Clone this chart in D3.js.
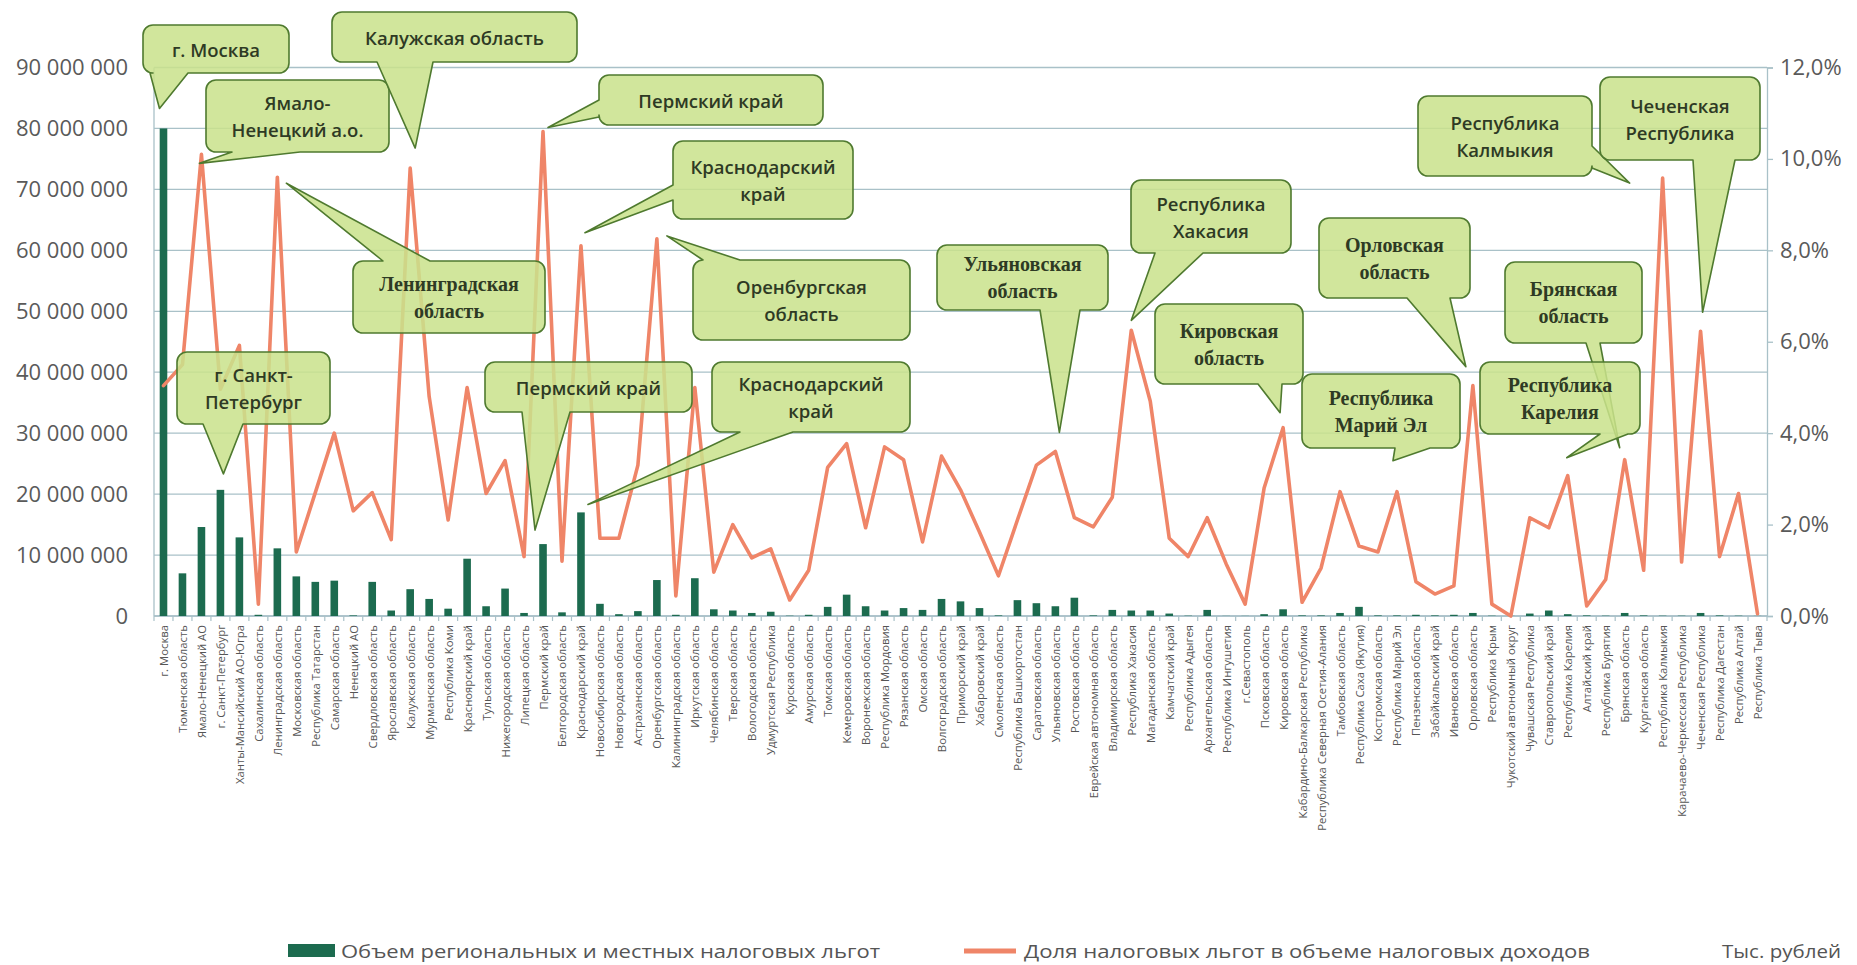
<!DOCTYPE html>
<html><head><meta charset="utf-8">
<script src="https://cdn.jsdelivr.net/npm/d3@7"></script>
<style>html,body{margin:0;padding:0;background:#fff;}svg{display:block;}</style>
</head><body>
<svg id="c" width="1857" height="965"></svg>
<script>
// ---------- DATA ----------
const categories = ["г. Москва","Тюменская область","Ямало-Ненецкий АО","г. Санкт-Петербург","Ханты-Мансийский АО-Югра","Сахалинская область","Ленинградская область","Московская область","Республика Татарстан","Самарская область","Ненецкий АО","Свердловская область","Ярославская область","Калужская область","Мурманская область","Республика Коми","Красноярский край","Тульская область","Нижегородская область","Липецкая область","Пермский край","Белгородская область","Краснодарский край","Новосибирская область","Новгородская область","Астраханская область","Оренбургская область","Калининградская область","Иркутская область","Челябинская область","Тверская область","Вологодская область","Удмуртская Республика","Курская область","Амурская область","Томская область","Кемеровская область","Воронежская область","Республика Мордовия","Рязанская область","Омская область","Волгоградская область","Приморский край","Хабаровский край","Смоленская область","Республика Башкортостан","Саратовская область","Ульяновская область","Ростовская область","Еврейская автономная область","Владимирская область","Республика Хакасия","Магаданская область","Камчатский край","Республика Адыгея","Архангельская область","Республика Ингушетия","г.Севастополь","Псковская область","Кировская область","Кабардино-Балкарская Республика","Республика Северная Осетия-Алания","Тамбовская область","Республика Саха (Якутия)","Костромская область","Республика Марий Эл","Пензенская область","Забайкальский край","Ивановская область","Орловская область","Республика Крым","Чукотский автономный округ","Чувашская Республика","Ставропольский край","Республика Карелия","Алтайский край","Республика Бурятия","Брянская область","Курганская область","Республика Калмыкия","Карачаево-Черкесская Республика","Чеченская Республика","Республика Дагестан","Республика Алтай","Республика Тыва"];

// Объем региональных и местных налоговых льгот, тыс. рублей
const benefitVolume = [80000000,7000000,14600000,20700000,12900000,200000,11100000,6500000,5600000,5800000,100000,5600000,900000,4400000,2800000,1200000,9400000,1600000,4500000,500000,11800000,600000,17000000,2000000,300000,800000,5900000,200000,6200000,1100000,900000,500000,700000,50000,200000,1500000,3500000,1600000,900000,1300000,1000000,2800000,2400000,1300000,100000,2600000,2100000,1600000,3000000,100000,1000000,900000,900000,400000,50000,1000000,20000,20000,300000,1100000,100000,100000,500000,1500000,100000,100000,200000,100000,200000,500000,50000,20000,400000,900000,300000,100000,50000,500000,100000,50000,50000,500000,100000,50000,20000];

// Доля налоговых льгот в объеме налоговых доходов, %
const benefitShare = [5.04,5.5,10.1,4.96,5.92,0.26,9.6,1.4,2.7,4.0,2.3,2.7,1.67,9.8,4.8,2.1,5.0,2.68,3.4,1.3,10.6,1.2,8.1,1.7,1.7,3.3,8.25,0.44,5.0,0.96,2.0,1.27,1.47,0.35,1.0,3.25,3.77,1.93,3.7,3.42,1.62,3.5,2.76,1.84,0.88,2.1,3.3,3.6,2.15,1.95,2.6,6.25,4.7,1.7,1.3,2.15,1.14,0.26,2.8,4.12,0.3,1.05,2.72,1.53,1.4,2.72,0.75,0.48,0.66,5.04,0.26,0.0,2.15,1.93,3.07,0.22,0.8,3.42,1.0,9.58,1.18,6.23,1.3,2.68,0.05];

const leftTicks = [0,10000000,20000000,30000000,40000000,50000000,60000000,70000000,80000000,90000000];
const rightTicks = [0,2,4,6,8,10,12];

const legendBar = "Объем региональных и местных налоговых льгот";
const legendLine = "Доля налоговых льгот в объеме налоговых доходов";
const unitsLabel = "Тыс. рублей";

// Annotation callouts (layout of the balloon labels)
const callouts = [
  {lines:["г. Москва"], serif:false, box:[143,25,146,48], edge:"bottom", base:[150,188], i:0, s:"bar", off:[-4,-20]},
  {lines:["Ямало-","Ненецкий а.о."], serif:false, box:[206,80,183,72], edge:"bottom", base:[232,300], i:2, s:"line", off:[-2,9]},
  {lines:["Калужская область"], serif:false, box:[332,12,245,50], edge:"bottom", base:[377,433], i:13, s:"line", off:[5,-20]},
  {lines:["Ленинградская","область"], serif:true, box:[353,261,192,72], edge:"top", base:[383,430], i:6, s:"line", off:[9,6]},
  {lines:["г. Санкт-","Петербург"], serif:false, box:[177,352,153,72], edge:"bottom", base:[203,243], i:3, s:"bar", off:[3,-16]},
  {lines:["Пермский край"], serif:false, box:[599,75,224,50], edge:"left", base:[100,117], i:20, s:"line", off:[5,-4]},
  {lines:["Краснодарский","край"], serif:false, box:[673,141,180,78], edge:"left", base:[185,200], i:22, s:"line", off:[4,-13]},
  {lines:["Оренбургская","область"], serif:false, box:[693,260,217,80], edge:"top", base:[703,740], i:26, s:"line", off:[10,-3]},
  {lines:["Пермский край"], serif:false, box:[485,362,207,50], edge:"bottom", base:[522,570], i:20, s:"bar", off:[-8,-14]},
  {lines:["Краснодарский","край"], serif:false, box:[712,362,198,70], edge:"bottom", base:[740,793], i:22, s:"bar", off:[7,-8]},
  {lines:["Ульяновская","область"], serif:true, box:[937,245,171,65], edge:"bottom", base:[1040,1080], i:47, s:"line", off:[4,-19]},
  {lines:["Республика","Хакасия"], serif:false, box:[1131,180,160,73], edge:"bottom", base:[1155,1203], i:51, s:"line", off:[0,-10]},
  {lines:["Кировская","область"], serif:true, box:[1155,304,148,80], edge:"bottom", base:[1258,1282], i:59, s:"line", off:[-3,-15]},
  {lines:["Республика","Марий Эл"], serif:true, box:[1302,374,158,74], edge:"bottom", base:[1395,1430], i:65, s:"line", off:[-4,-31]},
  {lines:["Орловская","область"], serif:true, box:[1319,218,151,80], edge:"bottom", base:[1407,1450], i:69, s:"line", off:[-7,-19]},
  {lines:["Республика","Калмыкия"], serif:false, box:[1418,96,174,80], edge:"right", base:[146,168], i:79, s:"line", off:[-33,5]},
  {lines:["Чеченская","Республика"], serif:false, box:[1600,77,160,83], edge:"bottom", base:[1693,1735], i:81, s:"line", off:[2,-19]},
  {lines:["Брянская","область"], serif:true, box:[1505,262,137,81], edge:"bottom", base:[1586,1600], i:77, s:"line", off:[-5,-12]},
  {lines:["Республика","Карелия"], serif:true, box:[1480,362,160,72], edge:"bottom", base:[1600,1628], i:74, s:"line", off:[-1,-18]}
];

// ---------- CHART ----------
const svg = d3.select("#c");
const X0 = 154, X1 = 1767, YT = 67.5, YB = 616;
const barColor = "#1c6b4f", lineColor = "#ef8568", gridColor = "#a9c1c8", axisText = "#5a5a5a";
const sans = "'Open Sans', 'Noto Sans', sans-serif";
const serif = "'Liberation Serif', 'DejaVu Serif', serif";

const x = d3.scaleBand().domain(categories).range([X0, X1]).paddingInner(0.6).paddingOuter(0.3);
const xc = c => x(c) + x.bandwidth() / 2;
const yL = d3.scaleLinear().domain([0, 90000000]).range([YB, YT]);
const yR = d3.scaleLinear().domain([0, 12]).range([YB, YT]);

// gridlines
svg.append("g").selectAll("line").data(leftTicks).join("line")
  .attr("x1", X0).attr("x2", X1).attr("y1", d => yL(d)).attr("y2", d => yL(d))
  .attr("stroke", gridColor).attr("stroke-width", 1.3);

// left vertical axis line
svg.append("line").attr("x1", X0).attr("x2", X0).attr("y1", YT).attr("y2", YB)
  .attr("stroke", gridColor).attr("stroke-width", 1.3);

// left axis labels
const fmtL = d => d3.format(",")(d).replace(/,/g, " ");
const gl = svg.append("g").attr("transform", `translate(${X0},0)`)
  .call(d3.axisLeft(yL).tickValues(leftTicks).tickFormat(fmtL).tickSize(0).tickPadding(26));
gl.select(".domain").remove();
gl.selectAll("text").attr("font-family", sans).attr("font-size", 22).attr("fill", axisText);

// right axis
const gr = svg.append("g").attr("transform", `translate(${X1},0)`)
  .call(d3.axisRight(yR).tickValues(rightTicks).tickFormat(d => d3.format(".1f")(d).replace(".", ",") + "%").tickSize(6).tickPadding(7));
gr.select(".domain").attr("stroke", gridColor).attr("stroke-width", 1.3);
gr.selectAll(".tick line").attr("stroke", gridColor).attr("stroke-width", 1.3);
gr.selectAll("text").attr("font-family", sans).attr("font-size", 22).attr("fill", axisText);

// x axis baseline and ticks between categories
svg.append("line").attr("x1", X0).attr("x2", X1).attr("y1", YB).attr("y2", YB)
  .attr("stroke", gridColor).attr("stroke-width", 1.5);
const step = x.step();
const boundaries = categories.map(c => x(c) - step * 0.3).concat([x(categories[categories.length - 1]) + x.bandwidth() + step * 0.3]);
svg.append("g").selectAll("line").data(boundaries).join("line")
  .attr("x1", d => d).attr("x2", d => d).attr("y1", YB).attr("y2", YB + 5)
  .attr("stroke", gridColor).attr("stroke-width", 1.2);

// bars
svg.append("g").selectAll("rect").data(categories).join("rect")
  .attr("x", c => x(c)).attr("width", x.bandwidth())
  .attr("y", (c, i) => yL(benefitVolume[i]))
  .attr("height", (c, i) => YB - yL(benefitVolume[i]))
  .attr("fill", barColor);

// line
const line = d3.line().x((d, i) => xc(categories[i])).y(d => yR(d));
svg.append("path").datum(benefitShare).attr("d", line)
  .attr("fill", "none").attr("stroke", lineColor).attr("stroke-width", 3.6)
  .attr("stroke-linejoin", "round").attr("stroke-linecap", "round");

// x labels
svg.append("g").selectAll("text").data(categories).join("text")
  .attr("transform", c => `translate(${xc(c)},${YB + 9}) rotate(-90)`)
  .attr("text-anchor", "end").attr("dominant-baseline", "central")
  .attr("font-family", sans).attr("font-size", 11.3).attr("fill", "#555")
  .text(c => c);

// callouts
function calloutPath(b, edge, base, tip, r) {
  const [bx, by, bw, bh] = b; const p = d3.path();
  p.moveTo(bx + r, by);
  if (edge === "top") { p.lineTo(base[0], by); p.lineTo(tip[0], tip[1]); p.lineTo(base[1], by); }
  p.lineTo(bx + bw - r, by); p.arcTo(bx + bw, by, bx + bw, by + r, r);
  if (edge === "right") { p.lineTo(bx + bw, base[0]); p.lineTo(tip[0], tip[1]); p.lineTo(bx + bw, base[1]); }
  p.lineTo(bx + bw, by + bh - r); p.arcTo(bx + bw, by + bh, bx + bw - r, by + bh, r);
  if (edge === "bottom") { p.lineTo(base[1], by + bh); p.lineTo(tip[0], tip[1]); p.lineTo(base[0], by + bh); }
  p.lineTo(bx + r, by + bh); p.arcTo(bx, by + bh, bx, by + bh - r, r);
  if (edge === "left") { p.lineTo(bx, base[1]); p.lineTo(tip[0], tip[1]); p.lineTo(bx, base[0]); }
  p.lineTo(bx, by + r); p.arcTo(bx, by, bx + r, by, r);
  p.closePath();
  return p.toString();
}
const cg = svg.append("g");
callouts.forEach(co => {
  const c = categories[co.i];
  const ty = co.s === "bar" ? yL(benefitVolume[co.i]) : yR(benefitShare[co.i]);
  const tip = [xc(c) + co.off[0], ty + co.off[1]];
  const g = cg.append("g");
  g.append("path").attr("d", calloutPath(co.box, co.edge, co.base, tip, 10))
    .attr("fill", "#c9e28c").attr("fill-opacity", 0.86)
    .attr("stroke", "#4f7a2f").attr("stroke-width", 1.6).attr("stroke-linejoin", "round");
  const [bx, by, bw, bh] = co.box;
  const cx = bx + bw / 2, cy = by + bh / 2;
  const lh = 27;
  co.lines.forEach((t, k) => {
    g.append("text").attr("x", cx).attr("y", cy + (k - (co.lines.length - 1) / 2) * lh)
      .attr("text-anchor", "middle").attr("dominant-baseline", "central")
      .attr("font-family", co.serif ? serif : sans)
      .attr("font-size", co.serif ? 20 : 18.5)
      .attr("font-weight", co.serif ? 700 : 600)
      .attr("fill", "#2e3a24").text(t);
  });
});

// legend
const lg = svg.append("g");
lg.append("rect").attr("x", 288).attr("y", 944).attr("width", 47).attr("height", 13).attr("fill", barColor);
lg.append("text").attr("x", 341).attr("y", 951).attr("dominant-baseline", "central")
  .attr("font-family", sans).attr("font-size", 19).attr("fill", "#555")
  .attr("textLength", 539).attr("lengthAdjust", "spacingAndGlyphs").text(legendBar);
lg.append("line").attr("x1", 964).attr("x2", 1016).attr("y1", 951).attr("y2", 951)
  .attr("stroke", lineColor).attr("stroke-width", 5);
lg.append("text").attr("x", 1024).attr("y", 951).attr("dominant-baseline", "central")
  .attr("font-family", sans).attr("font-size", 19).attr("fill", "#555")
  .attr("textLength", 566).attr("lengthAdjust", "spacingAndGlyphs").text(legendLine);
lg.append("text").attr("x", 1722).attr("y", 951).attr("dominant-baseline", "central")
  .attr("font-family", sans).attr("font-size", 19).attr("fill", "#555")
  .attr("textLength", 119).attr("lengthAdjust", "spacingAndGlyphs").text(unitsLabel);
</script>
</body></html>
